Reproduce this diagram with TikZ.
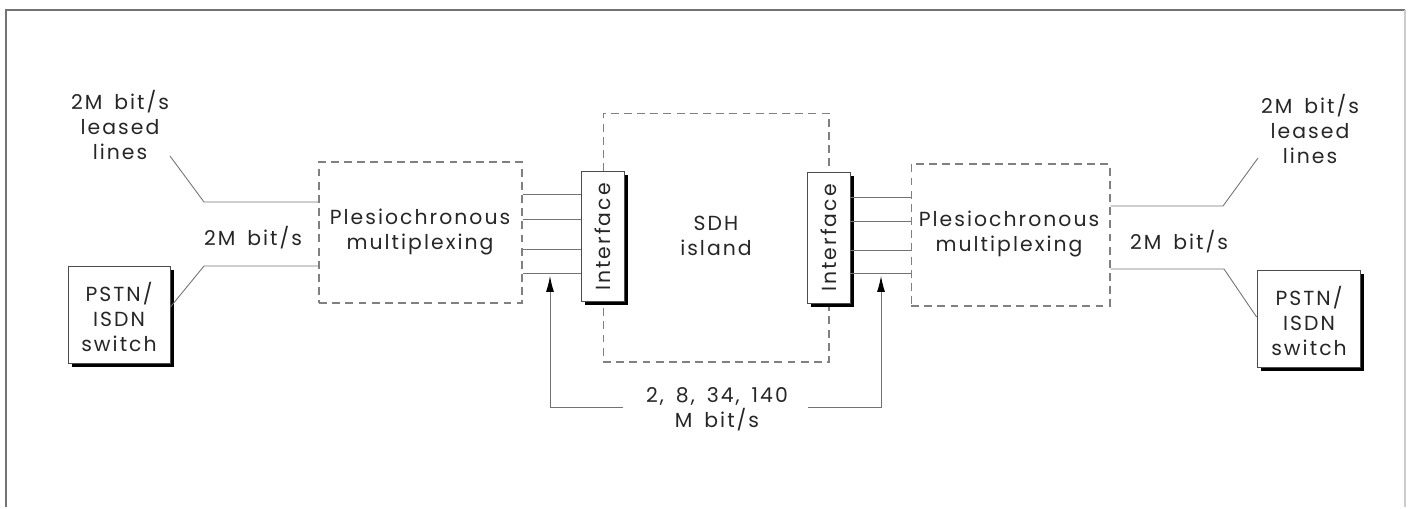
\documentclass[tikz,border=0pt]{standalone}
\usepackage{fontspec}
\setmainfont{Poppins}[LetterSpace=10, WordSpace=1.6]
\usepackage{tikz}
\usetikzlibrary{arrows.meta,shadows}

\tikzset{
  conn/.style={draw=black!55, line width=0.5pt},
  dashbox/.style={draw=black!50, line width=0.6pt, dash pattern=on 4.5pt off 3pt},
  solidbox/.style={draw=black!70, fill=white, line width=0.5pt,
    general shadow={fill=black, shadow xshift=2.4pt, shadow yshift=-2.4pt}},
  lab/.style={inner sep=0pt, align=center, text=black!85, font=\fontsize{11.6}{14.2}\selectfont},
  tip/.style={-{Latex[length=9pt, width=4.5pt, color=black, fill=black]}}
}

\begin{document}
\begin{tikzpicture}[x=0.02cm, y=-0.02cm]
  \useasboundingbox (0,0) rectangle (1408,508);
  % frame
  \draw[black!55, line width=0.9pt] (6,507) -- (6,10) -- (1405,10);
  \draw[black!20, line width=0.6pt] (1405,10) -- (1405,507);

  % dashed boxes
  \node[dashbox, minimum width=4.06cm, minimum height=2.82cm] (mux1) at (420.5,232.5) {};
  \node[dashbox, minimum width=3.98cm, minimum height=2.84cm] (mux2) at (1010.5,235) {};
  \node[dashbox, minimum width=4.52cm, minimum height=4.98cm] (sdh) at (716,237.5) {};
  \node[lab] (muxt1) at (420,232) {Plesiochronous\\multiplexing};
  \node[lab] (muxt2) at (1009,234) {Plesiochronous\\multiplexing};
  \node[lab] (sdht) at (716,236) {SDH\\island};

  % interfaces
  \node[solidbox, minimum width=0.86cm, minimum height=2.6cm] (intf1) at (602.5,236) {};
  \node[solidbox, minimum width=0.86cm, minimum height=2.62cm] (intf2) at (828.5,237.5) {};
  \node[lab, rotate=90] (intft1) at (603,237) {Interface};
  \node[lab, rotate=90] (intft2) at (829,238) {Interface};

  % switches
  \node[solidbox, minimum width=2.04cm, minimum height=1.94cm] (pstn1) at (119,314.5) {};
  \node[solidbox, minimum width=2.06cm, minimum height=1.94cm] (pstn2) at (1308.5,318.5) {};
  \node[lab] (pstnt1) at (119,317) {PSTN/\\ISDN\\switch};
  \node[lab] (pstnt2) at (1309,321) {PSTN/\\ISDN\\switch};

  % labels
  \node[lab] (lease1) at (120,125) {2M bit/s\\leased\\lines};
  \node[lab] (lease2) at (1310,129) {2M bit/s\\leased\\lines};
  \node[lab] (rate1) at (253,238) {2M bit/s};
  \node[lab] (rate2) at (1179,242) {2M bit/s};
  \node[lab] (speeds) at (717,409) {2, 8, 34, 140\\M bit/s};

  % left side connectors
  \coordinate (l1) at (170,156);
  \coordinate (l2) at (204,202);
  \draw[conn] (l1) -- (l2) -- (l2 -| mux1.west);
  \coordinate (l3) at (204,266);
  \draw[conn] (mux1.west |- l3) -- (l3) -- (pstn1.east |- 0,307);

  % right side connectors
  \coordinate (r1) at (1258,158);
  \coordinate (r2) at (1223,206);
  \draw[conn] (r1) -- (r2) -- (r2 -| mux2.east);
  \coordinate (r3) at (1224,269);
  \draw[conn] (mux2.east |- r3) -- (r3) -- (pstn2.west |- 0,317);

  % tributaries
  \foreach \y in {194,219,249,273}
    \draw[conn] (mux1.east |- 0,\y) -- (intf1.west |- 0,\y);
  \foreach \y in {197,221,250,273}
    \draw[conn] (intf2.east |- 0,\y) -- (mux2.west |- 0,\y);

  % rate arrows
  \coordinate (a1) at (623,407);
  \coordinate (t1) at (550,276);
  \draw[conn, tip] (a1) -| (t1);
  \coordinate (a2) at (808,407);
  \coordinate (t2) at (881,276);
  \draw[conn, tip] (a2) -| (t2);
\end{tikzpicture}
\end{document}
